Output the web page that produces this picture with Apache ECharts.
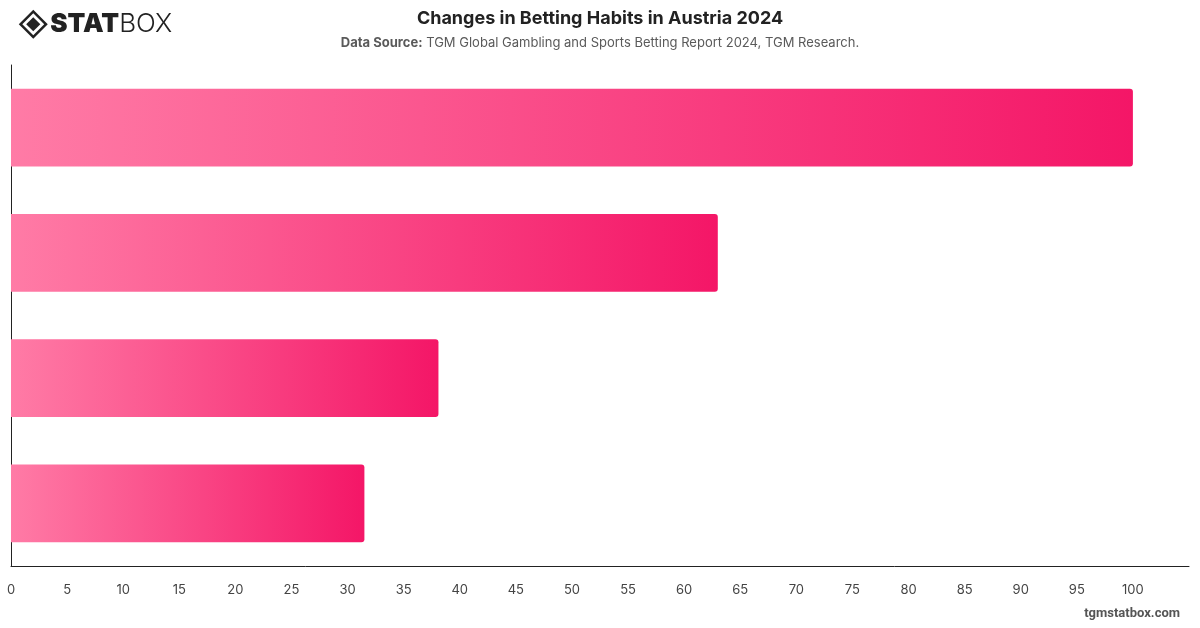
<!DOCTYPE html>
<html>
<head>
<meta charset="utf-8">
<script src="https://cdn.jsdelivr.net/npm/echarts@6/dist/echarts.min.js"></script>
<style>
  html, body { margin: 0; padding: 0; background: #fff; }
  #chart { width: 1200px; height: 628px; }
</style>
</head>
<body>
<div id="chart"></div>
<script>
// categories are not labelled in the picture, so these stay hidden
const categories = ['Group 1', 'Group 2', 'Group 3', 'Group 4']
const values = [100, 63, 38.1, 31.5]
const xTicks = { min: 0, max: 105, interval: 5 }

const chart = echarts.init(document.getElementById('chart'))

const barColor = new echarts.graphic.LinearGradient(0, 0, 1, 0, [
  { offset: 0, color: '#ff7ba6' },
  { offset: 1, color: '#f41667' }
])

chart.setOption({
  backgroundColor: '#ffffff',
  animation: false,
  title: [
    {
      text: 'Changes in Betting Habits in Austria 2024',
      left: 'center',
      top: 5,
      textStyle: {
        fontFamily: 'Inter',
        fontSize: 18,
        fontWeight: 'bold',
        color: '#222222'
      }
    },
    {
      text: '{b|Data Source:}{n| TGM Global Gambling and Sports Betting Report 2024, TGM Research.}',
      left: 'center',
      top: 32,
      textStyle: {
        fontWeight: 'normal',
        rich: {
          b: { fontFamily: 'Inter', fontSize: 13, fontWeight: 'bold', color: '#5a5a5a' },
          n: { fontFamily: 'Inter', fontSize: 13, fontWeight: 'normal', color: '#5a5a5a' }
        }
      }
    }
  ],
  graphic: [
    {
      type: 'group',
      left: 17,
      top: 8,
      children: [
        {
          type: 'rect',
          shape: { x: -9, y: -9, width: 18, height: 18 },
          rotation: Math.PI / 4,
          x: 13, y: 13,
          style: { fill: 'none', stroke: '#222', lineWidth: 2.5 }
        },
        {
          type: 'rect',
          shape: { x: -5, y: -5, width: 10, height: 10 },
          rotation: Math.PI / 4,
          x: 13, y: 13,
          style: { fill: '#222' }
        },
        {
          type: 'text',
          x: 30, y: 0,
          style: {
            text: '{s|STAT}{b|BOX}',
            rich: {
              s: { fontFamily: 'Inter', fontSize: 26, fontWeight: 900, fill: '#222' },
              b: { fontFamily: 'Inter', fontSize: 26, fontWeight: 300, fill: '#222' }
            }
          }
        }
      ]
    },
    {
      type: 'text',
      right: 20,
      top: 607,
      style: {
        text: 'tgmstatbox.com',
        fontFamily: 'Roboto',
        fontSize: 13,
        fontWeight: 'bold',
        fill: '#555555'
      }
    }
  ],
  grid: {
    left: 11,
    right: 11,
    top: 65,
    bottom: 62,
    containLabel: false
  },
  xAxis: {
    type: 'value',
    min: xTicks.min,
    max: xTicks.max,
    interval: xTicks.interval,
    splitLine: { show: false },
    axisLine: { show: true, lineStyle: { color: '#222', width: 1 } },
    axisTick: { show: false },
    axisLabel: {
      showMaxLabel: false,
      margin: 18,
      fontFamily: 'Inter',
      fontSize: 13,
      color: '#444444'
    }
  },
  yAxis: {
    type: 'category',
    data: categories,
    inverse: true,
    axisLine: { show: true, lineStyle: { color: '#222', width: 1 } },
    axisTick: { show: false },
    axisLabel: { show: false }
  },
  series: [
    {
      type: 'bar',
      data: values,
      barCategoryGap: '38%',
      itemStyle: {
        color: barColor,
        borderRadius: [0, 3, 3, 0]
      }
    }
  ]
})
</script>
</body>
</html>
